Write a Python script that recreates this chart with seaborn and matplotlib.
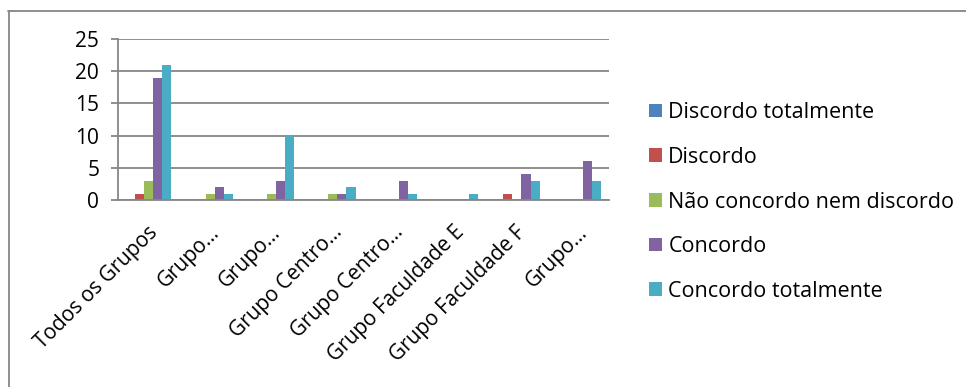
import matplotlib
matplotlib.use("Agg")
import matplotlib.pyplot as plt
import matplotlib.transforms as mtransforms
from matplotlib.lines import Line2D
import seaborn as sns
import pandas as pd
import numpy as np

# Category labels (several are truncated in the axis)
group_labels = ["Todos os Grupos", "Grupo…", "Grupo…", "Grupo Centro…",
                "Grupo Centro…", "Grupo Faculdade E", "Grupo Faculdade F", "Grupo…"]
responses = ["Discordo totalmente", "Discordo", "Não concordo nem discordo",
             "Concordo", "Concordo totalmente"]

discordo_totalmente = [0, 0, 0, 0, 0, 0, 0, 0]
discordo = [1, 0, 0, 0, 0, 0, 1, 0]
nem_nem = [3, 1, 1, 1, 0, 0, 0, 0]
concordo = [19, 2, 3, 1, 3, 0, 4, 6]
concordo_totalmente = [21, 1, 10, 2, 1, 1, 3, 3]

series = [discordo_totalmente, discordo, nem_nem, concordo, concordo_totalmente]
colors = ["#4F81BD", "#C0504D", "#9BBB59", "#8064A2", "#4BACC6"]

rows = []
for resp, vals in zip(responses, series):
    for i, v in enumerate(vals):
        rows.append({"pos": i, "resposta": resp, "valor": v})
df = pd.DataFrame(rows)

sns.set_theme(style="white")
plt.rcParams["font.family"] = ["Open Sans", "DejaVu Sans"]
plt.rcParams["text.color"] = "black"
plt.rcParams["xtick.color"] = "black"
plt.rcParams["ytick.color"] = "black"

W, H = 966, 387
fig = plt.figure(figsize=(W / 100, H / 100), dpi=100)
ax = fig.add_axes([118 / W, 1 - 200 / H, (609 - 118) / W, (200 - 39) / H])

sns.barplot(data=df, x="pos", y="valor", hue="resposta", hue_order=responses,
            palette=colors, width=0.74, gap=0, ax=ax, errorbar=None,
            saturation=1, legend=True, linewidth=0)

ax.set_xlim(-0.5, len(group_labels) - 0.5)
ax.set_ylim(0, 25)
ax.set_yticks([0, 5, 10, 15, 20, 25])
ax.yaxis.grid(True, color="#868686", linewidth=1.3)
ax.set_axisbelow(True)
for s in ["top", "right"]:
    ax.spines[s].set_visible(False)
for s in ["left", "bottom"]:
    ax.spines[s].set_color("#868686")
    ax.spines[s].set_linewidth(1.3)

# Category labels centred, boundary ticks between categories
ax.set_xticks(np.arange(len(group_labels)))
ax.set_xticklabels(group_labels, rotation=45, ha="right", va="center",
                   rotation_mode="anchor", fontsize=15)
ax.tick_params(axis="x", length=0, pad=21)
shift = mtransforms.ScaledTranslation(6 / 100, 0, fig.dpi_scale_trans)
for lbl in ax.get_xticklabels():
    lbl.set_transform(lbl.get_transform() + shift)
ax.set_xticks(np.arange(-0.5, len(group_labels), 1), minor=True)
ax.tick_params(axis="x", which="minor", length=5, color="#868686", width=1.3)
ax.tick_params(axis="y", length=5, color="#868686", width=1.3, labelsize=15,
               pad=8.5, left=True)
ax.set_xlabel("")
ax.set_ylabel("")

handles, labels = ax.get_legend_handles_labels()
ax.get_legend().remove()
fig.legend(handles, labels, loc="center left",
           bbox_to_anchor=(649 / W, 1 - 202 / H),
           frameon=False, fontsize=15.5, handlelength=0.6, handleheight=0.6,
           handletextpad=0.3, labelspacing=1.1, borderaxespad=0,
           borderpad=0)

# Chart frame (top and left edges)
frame_kw = dict(transform=fig.transFigure, color="#868686", linewidth=1.3)
fig.add_artist(Line2D([8 / W, 1], [1 - 10.5 / H, 1 - 10.5 / H], **frame_kw))
fig.add_artist(Line2D([8.5 / W, 8.5 / W], [0, 1 - 10.5 / H], **frame_kw))

fig.savefig("out.png", dpi=100)
